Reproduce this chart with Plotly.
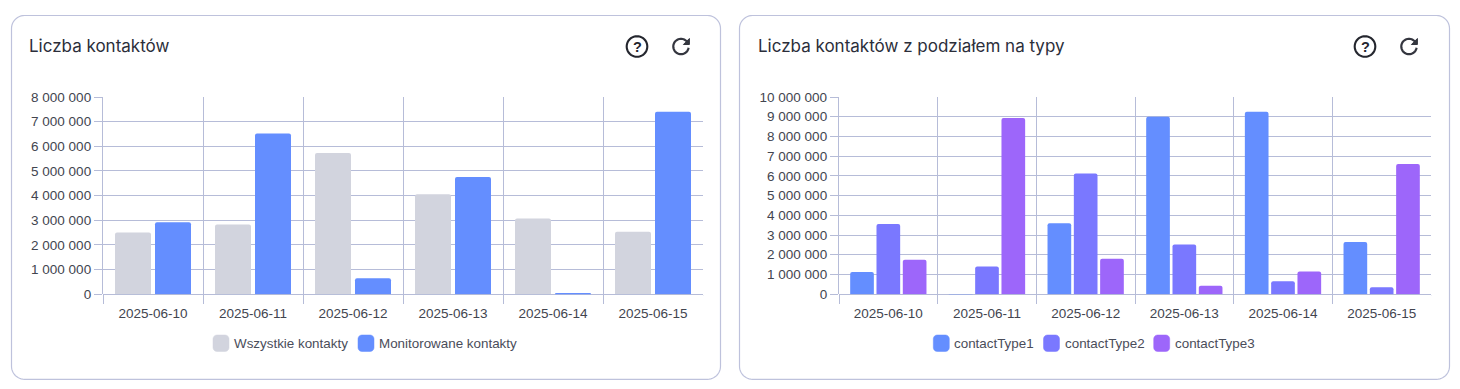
import math
import plotly.graph_objects as go

W, H = 1460, 389

dates = ["2025-06-10", "2025-06-11", "2025-06-12", "2025-06-13", "2025-06-14", "2025-06-15"]

left_title = "Liczba kontaktów"
all_contacts = [2500000, 2830000, 5730000, 4050000, 3070000, 2530000]
monitored_contacts = [2920000, 6520000, 650000, 4750000, 50000, 7400000]

right_title = "Liczba kontaktów z podziałem na typy"
contact_type1 = [1120000, 10000, 3600000, 9000000, 9250000, 2650000]
contact_type2 = [3560000, 1400000, 6120000, 2520000, 660000, 350000]
contact_type3 = [1750000, 8930000, 1800000, 430000, 1150000, 6600000]

GREY, BLUE, INDIGO, PURPLE = "#D2D4DE", "#648EFF", "#7A78FF", "#9D66FA"
LINE = "#B6BCD8"
TEXT = "#42454F"


def px(x):
    return x / W


def py(y):
    return 1 - y / H


def pts(seq):
    return " ".join(("M" if i == 0 else "L") + f"{px(x):.5f},{py(y):.5f}" for i, (x, y) in enumerate(seq))


def rounded(x0, y0, x1, y1, r):
    out = []
    for cx, cy, a0 in ((x1 - r, y0 + r, -90), (x1 - r, y1 - r, 0), (x0 + r, y1 - r, 90), (x0 + r, y0 + r, 180)):
        for k in range(13):
            a = math.radians(a0 + 7.5 * k)
            out.append((cx + r * math.cos(a), cy + r * math.sin(a)))
    return pts(out) + " Z"


def arc(cx, cy, r, a0, a1, n=40):
    return [(cx + r * math.cos(math.radians(a0 + (a1 - a0) * k / n)),
             cy + r * math.sin(math.radians(a0 + (a1 - a0) * k / n))) for k in range(n + 1)]


fig = go.Figure()

for name, vals, col in (("Wszystkie kontakty", all_contacts, GREY), ("Monitorowane kontakty", monitored_contacts, BLUE)):
    fig.add_bar(x=dates, y=vals, name=name, marker_color=col, marker_line_width=0, xaxis="x", yaxis="y", showlegend=False)
for name, vals, col in (("contactType1", contact_type1, BLUE), ("contactType2", contact_type2, INDIGO), ("contactType3", contact_type3, PURPLE)):
    fig.add_bar(x=dates, y=vals, name=name, marker_color=col, marker_line_width=0, xaxis="x2", yaxis="y2", showlegend=False)

xax = dict(type="category", tickson="boundaries", ticks="outside", ticklen=9, tickcolor=LINE, tickwidth=1.3,
           showgrid=True, gridcolor=LINE, gridwidth=1.3, showline=False, zeroline=False, ticklabelstandoff=9,
           tickfont=dict(family="Liberation Sans", size=13.5, color=TEXT), fixedrange=True)
yax = dict(ticks="outside", ticklen=8, tickcolor=LINE, tickwidth=1.3, dtick=1000000, tickformat=",d",
           showgrid=True, gridcolor=LINE, gridwidth=1.3, showline=True, linecolor=LINE, linewidth=1.3,
           zeroline=True, zerolinecolor=LINE, zerolinewidth=1.3,
           tickfont=dict(family="Liberation Sans", size=13.5, color=TEXT), fixedrange=True)

shapes = []
annotations = []


def note(text, x, y, anchor, font):
    annotations.append(dict(text=text, x=px(x), y=py(y), xref="paper", yref="paper", xanchor=anchor, yanchor="middle",
                            showarrow=False, borderpad=0, borderwidth=0, font=font))


for x0, x1 in ((11.5, 720.5), (739.5, 1449.5)):
    shapes.append(dict(type="path", path=rounded(x0, 15.5, x1, 379.3, 13), xref="paper", yref="paper",
                       line=dict(color="#BEC2DC", width=1.2), fillcolor="rgba(0,0,0,0)", layer="below"))

# the axes in the reference have no closing tick at their right end
for xe in (703, 1431):
    shapes.append(dict(type="rect", x0=px(xe - 2), x1=px(xe + 3), y0=py(305), y1=py(295.2), xref="paper", yref="paper",
                       line_width=0, fillcolor="white"))

for title, x in ((left_title, 29), (right_title, 757.5)):
    note(title, x, 46.2, "left", dict(family="Inter", size=17, color="#2B2E3A"))

for cx in (637, 1365):
    shapes.append(dict(type="path", path=pts(arc(cx, 46.5, 10.3, 0, 360)) + " Z", xref="paper", yref="paper",
                       line=dict(color="#24262E", width=2.1), fillcolor="rgba(0,0,0,0)"))
    note("<b>?</b>", cx, 46.5, "center", dict(family="Liberation Sans", size=14.5, color="#24262E"))
    rx = cx + 44
    shapes.append(dict(type="path", path=pts(arc(rx, 46.5, 7.7, -30, -350)), xref="paper", yref="paper",
                       line=dict(color="#34363F", width=2.2), fillcolor="rgba(0,0,0,0)"))
    shapes.append(dict(type="path", path=pts([(rx + 8.4, 38.5), (rx + 8.4, 44.5), (rx + 2.4, 44.5)]) + " Z", xref="paper", yref="paper",
                       line=dict(color="#34363F", width=1), fillcolor="#34363F"))

left_legend = [("Wszystkie kontakty", GREY, 213), ("Monitorowane kontakty", BLUE, 358)]
right_legend = [("contactType1", BLUE, 933.3), ("contactType2", INDIGO, 1043.5), ("contactType3", PURPLE, 1153.7)]
for name, col, sx in left_legend + right_legend:
    shapes.append(dict(type="path", path=rounded(sx, 335, sx + 16, 351.5, 4), xref="paper", yref="paper",
                       line=dict(color=col, width=0.5), fillcolor=col))
    note(name, sx + 21, 343.3, "left", dict(family="Liberation Sans", size=13.4, color="#4A4D5A"))

fig.update_layout(
    width=W, height=H, autosize=False,
    margin=dict(l=0, r=0, t=0, b=0, pad=0, autoexpand=False),
    paper_bgcolor="white", plot_bgcolor="white",
    separators=". ",
    barmode="group", bargap=0.2, bargroupgap=0.1, barcornerradius=2,
    xaxis={**xax, "domain": [px(103), px(703)], "anchor": "y"},
    yaxis={**yax, "domain": [py(294.2), py(97)], "range": [0, 8000000], "anchor": "x"},
    xaxis2={**xax, "domain": [px(839), px(1431)], "anchor": "y2"},
    yaxis2={**yax, "domain": [py(294.2), py(97)], "range": [0, 10000000], "anchor": "x2"},
    shapes=shapes, annotations=annotations, showlegend=False,
)

fig.write_html("out.html", config={"displayModeBar": False},
               post_script="document.documentElement.style.margin='0';document.body.style.margin='0';document.body.style.overflow='hidden';")
